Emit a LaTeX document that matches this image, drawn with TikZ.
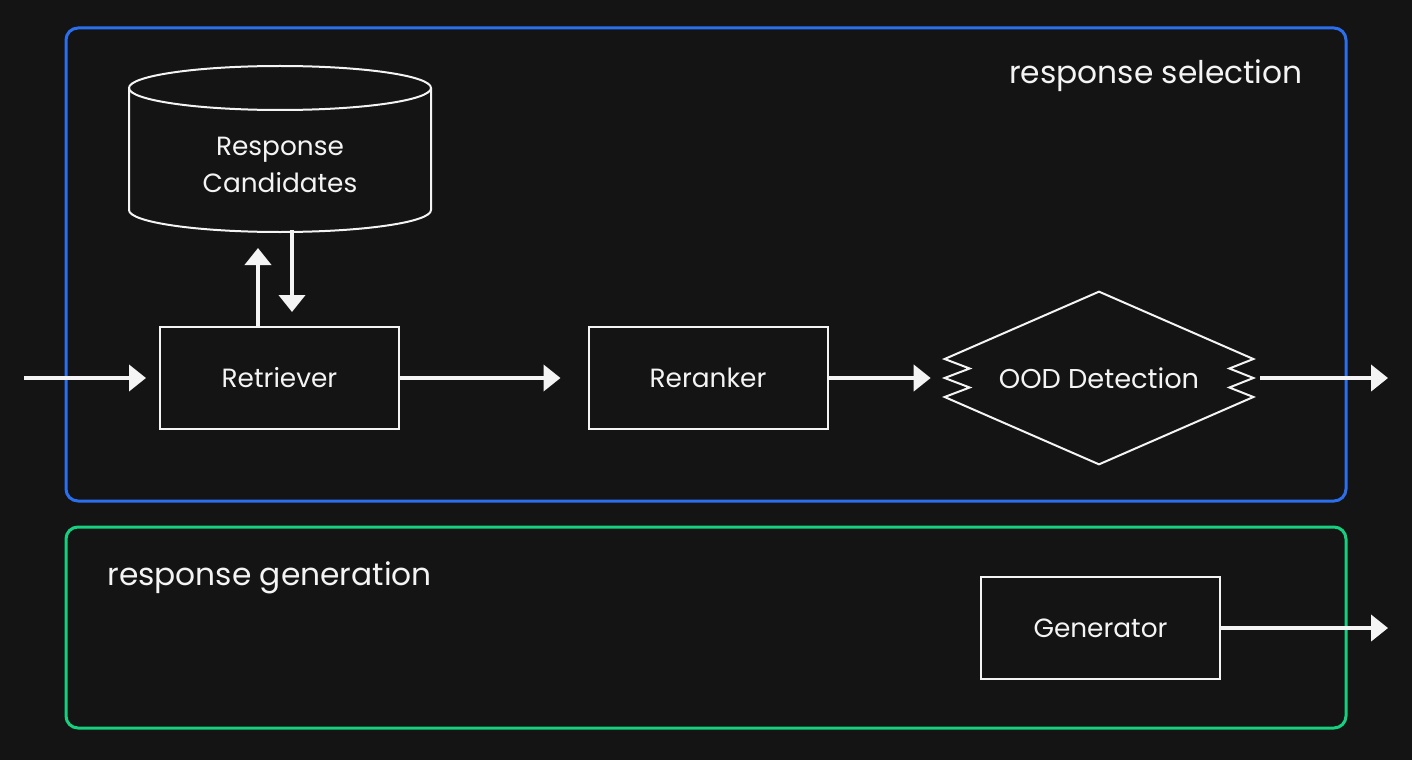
\documentclass[tikz,border=0pt]{standalone}
\usepackage{fontspec}
\setmainfont{Poppins}
\usetikzlibrary{arrows.meta}
\definecolor{bgdark}{HTML}{141414}
\definecolor{selblue}{HTML}{2B6FEE}
\definecolor{gengreen}{HTML}{17D07F}
\definecolor{fg}{HTML}{F4F4F4}

\begin{document}
\begin{tikzpicture}[
    box/.style={draw=fg, line width=0.04cm, minimum width=4.78cm, minimum height=2.04cm, text=fg, font=\fontsize{15}{21}\selectfont},
    flow/.style={draw=fg, line width=0.08cm, -{Triangle[length=0.34cm,width=0.52cm]}},
    stage/.style={line width=0.06cm, rounded corners=0.24cm},
    stagelabel/.style={text=fg, font=\fontsize{17.8}{21}\selectfont, inner sep=0pt}]
  \fill[bgdark] (0,0) rectangle (28.24,15.2);
  \useasboundingbox (0,0) rectangle (28.24,15.2);
  \draw[stage, selblue] (1.32,5.18) rectangle (26.92,14.64);
  \draw[stage, gengreen] (1.32,0.64) rectangle (26.92,4.66);
  \node[stagelabel, anchor=base east] (sellabel) at (26.06,13.52) {response selection};
  \node[stagelabel, anchor=base west] (genlabel) at (2.14,3.5) {response generation};

  % candidate store
  \node[text=fg, font=\fontsize{15}{21}\selectfont, align=center] (cands) at (5.6,11.91) {Response\\Candidates};
  \draw[fg, line width=0.04cm] (2.58,13.44) -- (2.58,11.0) arc[start angle=180, end angle=360, x radius=3.02, y radius=0.44] -- (8.62,13.44);
  \draw[fg, line width=0.04cm] (5.6,13.44) ellipse [x radius=3.02, y radius=0.44];

  \node[box] (ret) at (5.59,7.64) {\raisebox{-0.04cm}{Retriever}};
  \node[box] (rer) at (14.16,7.64) {\raisebox{-0.04cm}{Reranker}};
  \node[text=fg, font=\fontsize{15.5}{21}\selectfont, minimum width=6.16cm, minimum height=3.44cm] (ood) at (21.98,7.64) {\raisebox{-0.05cm}{OOD Detection}};
  \draw[fg, line width=0.04cm] (ood.north) -- ([yshift=0.38cm]ood.east) -- ++(-0.48,-0.19) -- ++(0.48,-0.19) -- ++(-0.48,-0.19) -- ++(0.48,-0.19)
    -- (ood.south) -- ([yshift=-0.38cm]ood.west) -- ++(0.5,0.19) -- ++(-0.5,0.19) -- ++(0.5,0.19) -- ++(-0.5,0.19) -- cycle;
  \node[box] (gen) at (22.01,2.64) {\raisebox{-0.04cm}{Generator}};

  \coordinate (src) at (0.48,7.64);
  \coordinate (selout) at (27.76,7.64);
  \coordinate (genout) at (27.76,2.64);
  \coordinate (query) at (5.16,10.24);
  \coordinate (dbout) at (5.84,10.6);
  \draw[flow, shorten >=0.26cm] (src) -- (ret);
  \draw[flow] (ret.north -| query) -- (query);
  \draw[flow, shorten >=0.28cm] (dbout) -- (ret.north -| dbout);
  \draw[flow, shorten >=0.54cm] (ret) -- (rer);
  \draw[flow, shorten >=0.28cm] (rer) -- (ood);
  \draw[flow, shorten <=0.14cm] (ood) -- (selout);
  \draw[flow] (gen) -- (genout);
\end{tikzpicture}
\end{document}
